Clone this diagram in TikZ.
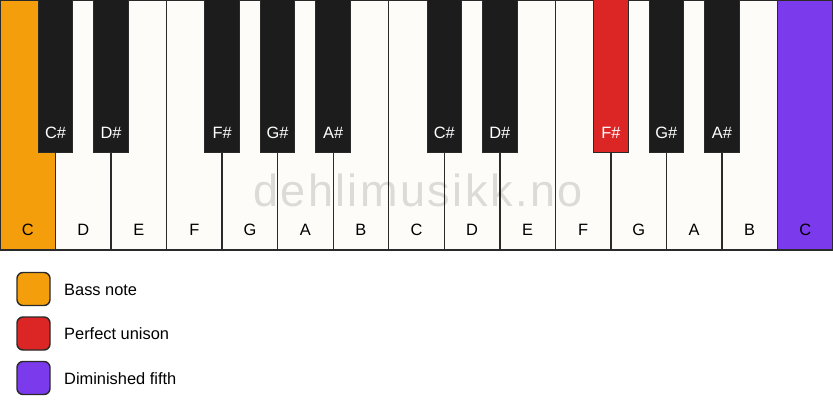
\documentclass[tikz,border=0pt]{standalone}
\usepackage{fontspec}
\setmainfont{Liberation Sans}
\newfontfamily\wmfont[LetterSpace=5.5]{Liberation Sans}
\definecolor{keywhite}{HTML}{FDFCF9}
\definecolor{keyblack}{HTML}{1C1C1C}
\definecolor{keyline}{HTML}{2A2A2A}
\definecolor{bassc}{HTML}{F59E0B}
\definecolor{unisonc}{HTML}{DC2626}
\definecolor{fifthc}{HTML}{7C3AED}
\tikzset{
  x=1pt, y=-1pt,
  whitekey/.style={draw=keyline, line width=1.4pt, fill=keywhite, minimum width=55.533pt, minimum height=250pt, inner sep=0pt, outer sep=0pt},
  blackkey/.style={draw=keyline, line width=1pt, fill=keyblack, minimum width=34.5pt, minimum height=153pt, inner sep=0pt, outer sep=0pt},
  wlabel/.style={font=\fontsize{16.4}{19}\selectfont, text=black, inner sep=0pt},
  blabel/.style={font=\fontsize{16.4}{19}\selectfont, text=white, inner sep=0pt},
  legbox/.style={draw=keyline, line width=1.4pt, rounded corners=6pt, minimum width=33pt, minimum height=33pt, inner sep=0pt},
  legtext/.style={font=\fontsize{16.4}{19}\selectfont, anchor=west, inner sep=0pt},
}
\begin{document}
\begin{tikzpicture}
\useasboundingbox (0,0) rectangle (833,417);
% white keys
\foreach \i/\n in {0/C,1/D,2/E,3/F,4/G,5/A,6/B,7/C,8/D,9/E,10/F,11/G,12/A,13/B,14/C}{
  \pgfmathsetmacro{\cx}{(\i+0.5)*55.533}
  \ifnum\i=0
    \node[whitekey, fill=bassc] (w\i) at (\cx,125) {};
  \else\ifnum\i=14
    \node[whitekey, fill=fifthc] (w\i) at (\cx,125) {};
  \else
    \node[whitekey] (w\i) at (\cx,125) {};
  \fi\fi
  \node[wlabel] (wl\i) at (\cx,230) {\n};
}
% watermark
\node[font=\wmfont\fontsize{45}{50}\selectfont, text=black, opacity=0.13, anchor=base, inner sep=0pt] (wm) at (418,207) {dehlimusikk.no};
% black keys
\foreach \i/\n in {0/C\#,1/D\#,3/F\#,4/G\#,5/A\#,7/C\#,8/D\#,10/F\#,11/G\#,12/A\#}{
  \pgfmathsetmacro{\cx}{(\i+1)*55.533}
  \ifnum\i=10
    \node[blackkey, fill=unisonc] (b\i) at (\cx,76.5) {};
  \else
    \node[blackkey] (b\i) at (\cx,76.5) {};
  \fi
  \node[blabel] (bl\i) at (\cx,133) {\n};
}
% legend
\node[legbox, fill=bassc] (lg1) at (33.5,289) {};
\node[legtext] (lt1) at (64,290) {Bass note};
\node[legbox, fill=unisonc] (lg2) at (33.5,333.5) {};
\node[legtext] (lt2) at (64,334) {Perfect unison};
\node[legbox, fill=fifthc] (lg3) at (33.5,378) {};
\node[legtext] (lt3) at (64,379) {Diminished fifth};
\end{tikzpicture}
\end{document}
